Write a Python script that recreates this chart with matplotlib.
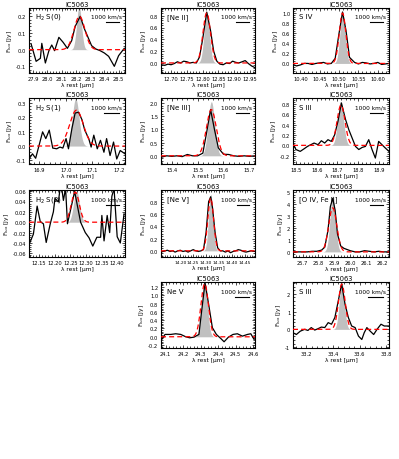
import numpy as np
import matplotlib
matplotlib.use("Agg")
import matplotlib.pyplot as plt
from matplotlib.ticker import AutoMinorLocator, MultipleLocator, FormatStrFormatter, FixedLocator

plt.rcParams['font.family'] = ['DejaVu Sans']

# ---------------- data ----------------
title = "IC5063"
names = ["H$_2$ S(0)", "[Ne II]", "S IV", "H$_2$ S(1)", "[Ne III]", "S III",
         "H$_2$ S(2)", "[Ne V]", "[O IV, Fe II]", "Ne V", "S III"]

wl_h2s0 = [27.885, 27.92, 27.95, 27.96, 27.985, 28.01, 28.03, 28.05, 28.08, 28.11, 28.14, 28.17,
           28.195, 28.23, 28.26, 28.28, 28.31, 28.34, 28.37, 28.40, 28.43, 28.47, 28.50, 28.54]
fx_h2s0 = [0.034, -0.07, -0.052, 0.038, -0.08, -0.006, 0.028, -0.006, 0.074, 0.044, 0.008, 0.054,
           0.14, 0.2, 0.124, 0.084, 0.024, 0.004, -0.006, -0.02, -0.04, -0.1, -0.036, 0.008]

wl_ne2 = [12.668, 12.68, 12.69, 12.70, 12.71, 12.72, 12.73, 12.74, 12.75, 12.76, 12.77, 12.78, 12.79,
          12.80, 12.813, 12.825, 12.835, 12.845, 12.855, 12.865, 12.875, 12.885, 12.895, 12.905,
          12.915, 12.925, 12.935, 12.945, 12.955, 12.966]
fx_ne2 = [-0.03, -0.04, -0.02, -0.03, -0.01, 0.02, 0.0, 0.03, 0.02, 0.0, 0.01, 0.0, 0.1,
          0.4, 0.86, 0.55, 0.2, 0.03, -0.02, -0.03, 0.0, -0.01, 0.03, 0.01,
          0.0, 0.02, 0.04, -0.01, -0.05, -0.08]

wl_s4 = [10.381, 10.39, 10.40, 10.41, 10.42, 10.43, 10.44, 10.45, 10.46, 10.47, 10.48, 10.49, 10.50,
         10.509, 10.518, 10.527, 10.54, 10.55, 10.56, 10.57, 10.58, 10.59, 10.60, 10.61, 10.62, 10.629]
fx_s4 = [-0.02, -0.05, -0.03, 0.0, 0.0, -0.02, 0.0, 0.01, 0.02, -0.01, 0.0, 0.1, 0.6,
         1.02, 0.65, 0.12, 0.02, -0.01, 0.02, 0.01, -0.01, 0.0, 0.02, -0.02, -0.01, 0.0]

wl_h2s1 = [16.862, 16.875, 16.887, 16.903, 16.913, 16.925, 16.938, 16.951, 16.966, 16.978, 16.989,
           17.001, 17.01, 17.023, 17.035, 17.048, 17.061, 17.071, 17.086, 17.095, 17.105, 17.118,
           17.13, 17.143, 17.153, 17.166, 17.179, 17.191, 17.204, 17.222]
fx_h2s1 = [-0.09, -0.054, -0.085, 0.028, 0.099, 0.052, 0.111, -0.014, -0.019, -0.007, -0.014,
           0.052, -0.019, 0.123, 0.23, 0.236, 0.182, 0.111, 0.052, -0.007, 0.076, -0.019,
           0.04, -0.043, 0.052, -0.066, 0.028, -0.09, -0.031, -0.054]

wl_ne3 = [15.36, 15.38, 15.40, 15.42, 15.44, 15.46, 15.48, 15.50, 15.52, 15.535, 15.55, 15.565,
          15.58, 15.60, 15.62, 15.64, 15.66, 15.68, 15.70, 15.722]
fx_ne3 = [-0.05, 0.0, -0.02, 0.0, -0.03, 0.05, 0.0, 0.0, 0.1, 0.9, 1.75, 1.0,
          0.3, 0.06, 0.05, 0.0, -0.02, 0.0, -0.02, 0.0]

wl_s3a = [18.486, 18.5, 18.521, 18.54, 18.556, 18.572, 18.588, 18.607, 18.623, 18.639, 18.655, 18.671,
          18.687, 18.703, 18.72, 18.74, 18.756, 18.772, 18.788, 18.804, 18.82, 18.836, 18.852,
          18.868, 18.884, 18.9, 18.916, 18.932, 18.95]
fx_s3a = [0.045, -0.08, -0.116, -0.065, -0.02, 0.013, 0.045, 0.013, 0.09, 0.045, 0.11, 0.077,
          0.2, 0.46, 0.82, 0.5, 0.3, 0.14, -0.02, -0.08, -0.04, -0.02, 0.11,
          -0.08, -0.245, 0.077, 0.013, -0.05, -0.116]

wl_h2s2 = [12.121, 12.132, 12.144, 12.154, 12.164, 12.173, 12.186, 12.196, 12.201, 12.212, 12.22,
           12.228, 12.235, 12.241, 12.264, 12.283, 12.298, 12.31, 12.322, 12.335, 12.347, 12.351,
           12.358, 12.368, 12.376, 12.383, 12.39, 12.40, 12.41, 12.422]
fx_h2s2 = [-0.039, -0.023, 0.031, 0.001, -0.003, -0.039, -0.003, 0.02, 0.046, 0.039, 0.078,
           0.042, 0.065, -0.003, 0.059, 0.0, -0.02, -0.03, -0.046, -0.029, -0.029, 0.013,
           -0.036, 0.013, -0.02, 0.05, 0.065, -0.028, -0.04, 0.016]

wl_ne5a = [14.125, 14.14, 14.15, 14.16, 14.17, 14.18, 14.19, 14.20, 14.21, 14.22, 14.23, 14.24,
           14.25, 14.26, 14.27, 14.28, 14.29, 14.30, 14.31, 14.318, 14.325, 14.335, 14.345,
           14.355, 14.365, 14.375, 14.385, 14.395, 14.405, 14.415, 14.425, 14.435, 14.445,
           14.455, 14.465, 14.475, 14.49]
fx_ne5a = [-0.02, 0.0, 0.01, -0.01, 0.0, -0.02, 0.0, 0.01, -0.01, 0.0, -0.02, 0.0,
           0.02, 0.0, -0.01, 0.0, 0.02, 0.3, 0.8, 0.88, 0.7, 0.3, 0.05,
           0.0, 0.0, -0.02, 0.0, -0.03, -0.01, 0.0, 0.02, 0.01, -0.01,
           -0.02, -0.01, 0.0, -0.01]

wl_o4 = [25.64, 25.67, 25.70, 25.73, 25.76, 25.79, 25.82, 25.84, 25.86, 25.875, 25.89, 25.905,
         25.92, 25.94, 25.96, 25.98, 26.0, 26.03, 26.06, 26.09, 26.12, 26.15, 26.18, 26.21, 26.24]
fx_o4 = [0.0, 0.0, 0.0, 0.0, 0.05, 0.05, 0.15, 0.4, 1.8, 3.8, 4.5, 3.5,
         1.5, 0.5, 0.3, 0.2, 0.1, 0.0, 0.0, 0.1, 0.05, 0.0, 0.05, 0.0, 0.0]

wl_ne5b = [24.073, 24.096, 24.129, 24.157, 24.186, 24.215, 24.237, 24.262, 24.29, 24.305, 24.325,
           24.345, 24.367, 24.39, 24.415, 24.434, 24.459, 24.485, 24.51, 24.539, 24.568, 24.587, 24.606]
fx_ne5b = [-0.09, 0.057, 0.057, 0.073, 0.057, 0.0, -0.024, -0.008, 0.057, 0.6, 1.3,
           0.8, 0.22, 0.057, -0.04, -0.12, -0.008, 0.057, 0.073, 0.016, 0.057, 0.073, -0.065]

wl_s3b = [33.1, 33.125, 33.155, 33.187, 33.212, 33.237, 33.263, 33.288, 33.313, 33.338, 33.364,
          33.389, 33.414, 33.44, 33.465, 33.49, 33.515, 33.54, 33.566, 33.591, 33.616, 33.634,
          33.654, 33.679, 33.705, 33.73, 33.76, 33.785, 33.82]
fx_s3b = [-0.19, -0.29, -0.1, 0.0, -0.06, 0.1, -0.04, 0.04, 0.13, 0.1, 0.38,
          0.29, 0.67, 1.62, 2.57, 1.43, 0.67, 0.19, 0.1, -0.38, -0.57, -0.19,
          0.1, -0.1, -0.29, 0.0, 0.29, 0.19, 0.19]

# fit (red) and intrinsic (grey) gaussian parameters: centre, peak, fwhm
fit_pars = [(28.225, 0.20, 0.09), (12.813, 0.85, 0.028), (10.509, 1.0, 0.02),
            (17.04, 0.25, 0.06), (15.553, 1.75, 0.045), (18.718, 0.78, 0.045),
            (12.266, 0.058, 0.03), (14.318, 0.86, 0.026), (25.89, 3.7, 0.06),
            (24.323, 1.28, 0.05), (33.466, 2.55, 0.06)]
grey_pars = [(28.222, 0.26, 0.04), (12.813, 0.85, 0.02), (10.509, 1.0, 0.016),
             (17.037, 0.33, 0.03), (15.553, 2.05, 0.03), (18.716, 0.85, 0.033),
             (12.27, 0.06, 0.022), (14.318, 0.92, 0.02), (25.89, 4.7, 0.04),
             (24.322, 1.32, 0.038), (33.466, 2.6, 0.045)]

xlims = [(27.87, 28.545), (12.668, 12.966), (10.381, 10.629),
         (16.862, 17.222), (15.358, 15.722), (18.486, 18.95),
         (12.118, 12.425), (14.125, 14.49), (25.64, 26.244),
         (24.073, 24.611), (33.1, 33.82)]
ylims = [(-0.14, 0.25), (-0.17, 0.93), (-0.19, 1.10),
         (-0.125, 0.335), (-0.31, 2.19), (-0.36, 0.916),
         (-0.067, 0.062), (-0.1, 0.99), (-0.43, 5.2),
         (-0.27, 1.32), (-1.05, 2.67)]
xmaj = [0.1, 0.05, 0.05, 0.1, 0.1, 0.1, 0.05, 0.05, 0.1, 0.1, 0.2]
ymaj = [0.1, 0.2, 0.2, 0.1, 0.5, 0.2, 0.02, 0.2, 1, 0.2, 1]
ne5_xticks = [14.20, 14.25, 14.30, 14.35, 14.40, 14.45]

spectra = [(wl_h2s0, fx_h2s0), (wl_ne2, fx_ne2), (wl_s4, fx_s4),
           (wl_h2s1, fx_h2s1), (wl_ne3, fx_ne3), (wl_s3a, fx_s3a),
           (wl_h2s2, fx_h2s2), (wl_ne5a, fx_ne5a), (wl_o4, fx_o4),
           (wl_ne5b, fx_ne5b), (wl_s3b, fx_s3b)]

# ---------------- layout ----------------
W, H = 399, 460
fig = plt.figure(figsize=(W / 100, H / 100), dpi=100)
cols = [(29, 125), (161, 255), (293, 389)]
rows = [(9, 74), (99, 165), (191, 258), (283, 349)]
slots = [(0, 0), (0, 1), (0, 2), (1, 0), (1, 1), (1, 2), (2, 0), (2, 1), (2, 2), (3, 1), (3, 2)]


def gauss(x, c, a, f):
    s = f / 2.3548
    return a * np.exp(-0.5 * ((x - c) / s) ** 2)


for i, (r, c) in enumerate(slots):
    x0, x1 = cols[c]
    y0, y1 = rows[r]
    ax = fig.add_axes([x0 / W, 1 - y1 / H, (x1 - x0) / W, (y1 - y0) / H])
    wl, fx = spectra[i]
    xl = xlims[i]
    xx = np.linspace(xl[0], xl[1], 600)
    gc, ga, gf = grey_pars[i]
    ax.fill_between(xx, 0, gauss(xx, gc, ga, gf), color='#c0c0c0', lw=0, zorder=1)
    ax.plot(wl, fx, color='black', lw=0.9, zorder=3)
    fc, fa, ff = fit_pars[i]
    ax.plot(xx, gauss(xx, fc, fa, ff), color='red', lw=0.9, ls=(0, (4, 2.5)), zorder=4)
    ax.set_xlim(*xl)
    ax.set_ylim(*ylims[i])
    if i == 7:
        ax.xaxis.set_major_locator(FixedLocator(ne5_xticks))
    else:
        ax.xaxis.set_major_locator(MultipleLocator(xmaj[i]))
    ax.yaxis.set_major_locator(MultipleLocator(ymaj[i]))
    ax.xaxis.set_minor_locator(AutoMinorLocator(5))
    ax.yaxis.set_minor_locator(AutoMinorLocator(5))
    ax.tick_params(which='both', direction='in', top=True, right=True, labelsize=3.7,
                   width=0.5, pad=2)
    if i == 7:
        ax.tick_params(axis='x', labelsize=3.2)
    ax.tick_params(which='major', length=2.5)
    ax.tick_params(which='minor', length=1.2)
    for sp in ax.spines.values():
        sp.set_linewidth(0.8)
    fmt = '%.2f' if xmaj[i] < 0.1 else '%.1f'
    ax.xaxis.set_major_formatter(FormatStrFormatter(fmt))
    if ymaj[i] == 1:
        ax.yaxis.set_major_formatter(FormatStrFormatter('%d'))
    elif ymaj[i] == 0.02:
        ax.yaxis.set_major_formatter(FormatStrFormatter('%.2f'))
    else:
        ax.yaxis.set_major_formatter(FormatStrFormatter('%.1f'))
    ax.set_title(title, fontsize=4.8, pad=1.2)
    ax.set_xlabel("λ rest [μm]", fontsize=4.2, labelpad=0.8)
    ax.set_ylabel("F$_{\\rm lux}$ [Jy]", fontsize=4.2, labelpad=1.5)
    ax.text(0.06, 0.87, names[i], transform=ax.transAxes, fontsize=5, va='center', ha='left',
            zorder=5)
    ax.text(0.97, 0.87, "1000 km/s", transform=ax.transAxes, fontsize=4.2, va='center',
            ha='right', zorder=5)
    # 1000 km/s bar
    dl = fc * 1000.0 / 299792.458
    xend = xl[0] + 0.94 * (xl[1] - xl[0])
    yl = ylims[i]
    ybar = yl[0] + 0.78 * (yl[1] - yl[0])
    ax.plot([xend - dl, xend], [ybar, ybar], color='black', lw=0.8, zorder=5)

fig.savefig("out.png", dpi=100)
